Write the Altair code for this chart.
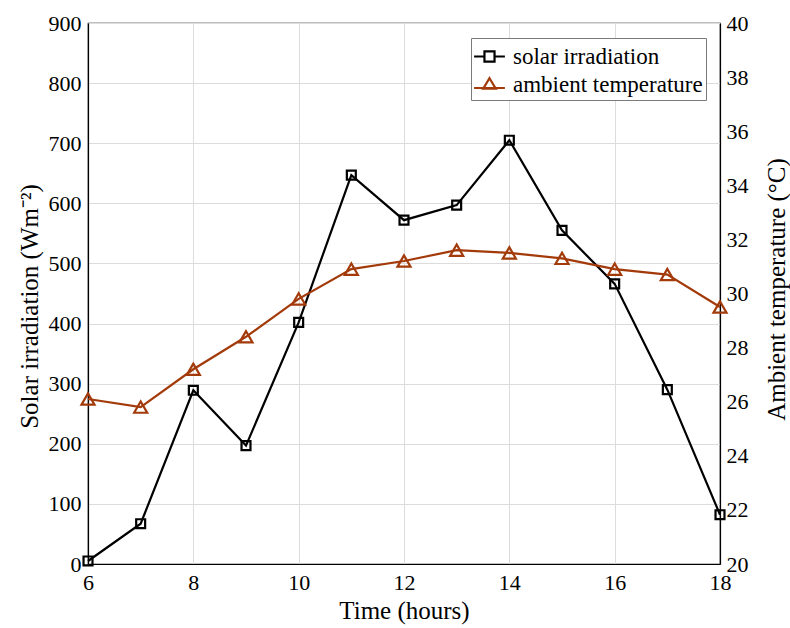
import altair as alt
import pandas as pd

hours = [6, 7, 8, 9, 10, 11, 12, 13, 14, 15, 16, 17, 18]
solar = [5, 67, 289, 197, 402, 647, 572, 597, 705, 555, 466, 290, 82]
temp = [26.1, 25.8, 27.2, 28.4, 29.8, 30.9, 31.2, 31.6, 31.5, 31.3, 30.9, 30.7, 29.5]
series = ["solar irradiation", "ambient temperature"]
colors = ["#000000", "#A33A0A"]

df = pd.DataFrame({"hours": hours, "solar": solar, "temp": temp})
leg_df = pd.DataFrame({"series": series})

FONT = "Liberation Serif"
common = dict(labelFont=FONT, titleFont=FONT, labelFontSize=22, titleFontSize=25,
              labelColor="black", titleColor="black", titleFontWeight="normal",
              domainColor="black", domainWidth=1.2, gridColor="#dcdcdc", gridWidth=1,
              tickSize=0, labelFlush=False)

x_enc = alt.X("hours:Q", scale=alt.Scale(domain=[6, 18], nice=False),
              axis=alt.Axis(values=[6, 8, 10, 12, 14, 16, 18], title="Time (hours)",
                            grid=True, labelPadding=8, titlePadding=5, **common))

left_axis = alt.Axis(values=list(range(0, 901, 100)), title="Solar irradiation (Wm⁻²)",
                     grid=True, labelPadding=7, titleAngle=270, titleX=-59, titleY=283,
                     titleAlign="center", titleBaseline="middle", **common)
right_axis = alt.Axis(values=list(range(20, 41, 2)), title="Ambient temperature (°C)",
                      orient="right", grid=False, labelPadding=6,
                      titleAngle=270, titleX=56, titleY=266, titleAlign="center",
                      titleBaseline="middle", **common)

solar_line = alt.Chart(df).mark_line(color=colors[0], strokeWidth=2.2).encode(
    x=x_enc, y=alt.Y("solar:Q", scale=alt.Scale(domain=[0, 900], nice=False), axis=left_axis))
solar_pts = alt.Chart(df).mark_point(shape="square", filled=False, color=colors[0],
                                     strokeWidth=2.2, size=80, opacity=1).encode(
    x=x_enc, y=alt.Y("solar:Q", scale=alt.Scale(domain=[0, 900], nice=False), axis=left_axis))
left_layer = alt.layer(solar_line, solar_pts)

temp_line = alt.Chart(df).mark_line(color=colors[1], strokeWidth=2.2).encode(
    x=x_enc, y=alt.Y("temp:Q", scale=alt.Scale(domain=[20, 40], nice=False), axis=right_axis))
temp_pts = alt.Chart(df).mark_point(shape="triangle-up", filled=False, color=colors[1],
                                    strokeWidth=2.2, size=170, opacity=1).encode(
    x=x_enc, y=alt.Y("temp:Q", scale=alt.Scale(domain=[20, 40], nice=False), axis=right_axis))
right_layer = alt.layer(temp_line, temp_pts)

sq_path = "M-1.1,0H-0.36M0.36,0H1.1M-0.36,-0.36H0.36V0.36H-0.36Z"
tri_path = "M-1.1,0.25H1.1M0,-0.45L0.45,0.3H-0.45Z"

legend_layer = alt.Chart(leg_df).mark_point(opacity=0, filled=False).encode(
    color=alt.Color("series:N", scale=alt.Scale(domain=series, range=colors),
                    legend=alt.Legend(title=None, orient="none", legendX=383, legendY=15,
                                      symbolSize=784, symbolStrokeWidth=2.2,
                                      symbolOpacity=1, symbolFillColor="transparent",
                                      labelFont=FONT, labelFontSize=23, labelColor="black",
                                      labelOffset=8, rowPadding=0,
                                      fillColor="white", strokeColor="#7a7a7a",
                                      padding=3, labelLimit=400)),
    shape=alt.Shape("series:N", scale=alt.Scale(domain=series, range=[sq_path, tri_path]),
                    legend=None),
)

chart = alt.layer(left_layer, right_layer, legend_layer).resolve_scale(
    y="independent").properties(
    width=632, height=541,
    background="white",
    autosize=alt.AutoSizeParams(type="none"),
    padding={"left": 88, "top": 23, "right": 70, "bottom": 64},
).configure_view(stroke="black", strokeWidth=1.2)

chart.save("out.html", embed_options={"renderer": "svg", "actions": False})
